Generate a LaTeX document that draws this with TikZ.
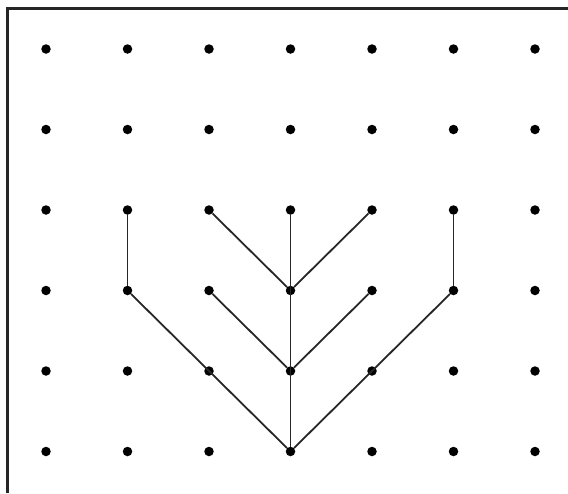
\documentclass[tikz,border=0pt]{standalone}
\begin{document}
\begin{tikzpicture}[x=1pt,y=-1pt,
  dot/.style={circle,fill=black,inner sep=0pt,minimum size=9.5pt},
  edge/.style={line width=1.8pt,draw=black!85},
  frame/.style={line width=2.2pt,draw=black!85}]
\useasboundingbox (0,0) rectangle (568,493);
\fill[white] (0,0) rectangle (568,493);
\coordinate (tl) at (7.5,8.5);
\coordinate (tr) at (568,8.5);
\coordinate (bl) at (7.5,493);
\draw[frame] (tr) -- (tl) -- (bl);
\foreach \i in {0,...,6} {
  \foreach \j in {0,...,5} {
    \node[dot] (d\i\j) at ({46+81.5*\i},{49+80.5*\j}) {};
  }
}
\draw[edge] (d12) -- (d13);
\draw[edge] (d22) -- (d33);
\draw[edge] (d32) -- (d35);
\draw[edge] (d42) -- (d33);
\draw[edge] (d52) -- (d53);
\draw[edge] (d13) -- (d35);
\draw[edge] (d23) -- (d34);
\draw[edge] (d43) -- (d34);
\draw[edge] (d53) -- (d35);
\end{tikzpicture}
\end{document}
